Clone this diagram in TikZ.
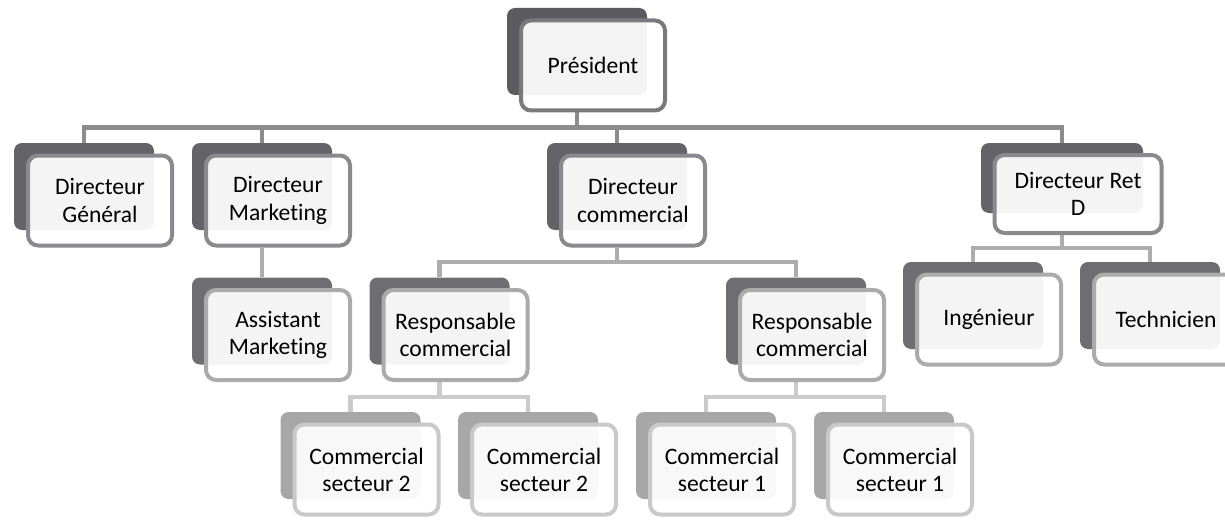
\documentclass[tikz,border=0pt]{standalone}
\usepackage{fontspec}
\setmainfont{Carlito}[Ligatures={NoCommon}]
\usetikzlibrary{positioning,calc,backgrounds}
\definecolor{bk0}{HTML}{5C5C60}
\definecolor{bk1}{HTML}{646468}
\definecolor{bk2}{HTML}{6E6E72}
\definecolor{bk3}{HTML}{A7A7A7}
\definecolor{fr0}{HTML}{7A7A7E}
\definecolor{fr1}{HTML}{8A8A8E}
\definecolor{fr2}{HTML}{ABABAB}
\definecolor{fr3}{HTML}{C9C9C9}
\definecolor{ln1}{HTML}{8C8C8C}
\definecolor{ln2}{HTML}{ADADAD}
\definecolor{ln3}{HTML}{CBCBCB}
\begin{document}
\begin{tikzpicture}[x=0.5pt,y=-0.5pt,
  back/.style={rounded corners=4pt,minimum width=70pt,minimum height=43.5pt,inner sep=0pt},
  front/.style={draw,line width=2pt,rounded corners=5pt,fill=white,fill opacity=0.93,text opacity=1,
    minimum width=72pt,minimum height=45pt,inner sep=0pt,align=center,
    font=\fontsize{11.8}{13.6}\selectfont,xshift=8pt,yshift=-7pt},
  link/.style={line width=2.1pt,to path={(\tikztostart) |- ($(\tikztostart)!.5!(\tikztotarget)$) -| (\tikztotarget)}}]
\clip (0,0) rectangle (1225,519);
% president
\node[back,fill=bk0] (presb) at (577,51.5) {};
\node[front,draw=fr0] (pres) at (presb) {Président};
% directeurs
\node[back,fill=bk1] (dgb) at (84,186.5) {};
\node[front,draw=fr1] (dg) at (dgb) {Directeur\\Général};
\node[back,fill=bk1] (dmb) at (262,186.5) {};
\node[front,draw=fr1] (dm) at (dmb) {Directeur\\Marketing};
\node[back,fill=bk1] (dcb) at (617,186.5) {};
\node[front,draw=fr1] (dc) at (dcb) {Directeur\\commercial};
\node[back,fill=bk1,minimum width=81pt,minimum height=35pt] (drdb) at (1062,178) {};
\node[front,draw=fr1,minimum width=83.5pt,minimum height=39pt,yshift=-1pt] (drd) at (drdb) {Directeur Ret\\D};
% niveau 2
\node[back,fill=bk2] (amb) at (262,321) {};
\node[front,draw=fr2] (am) at (amb) {Assistant\\Marketing};
\node[back,fill=bk2] (rcab) at (439.5,321) {};
\node[front,draw=fr2] (rca) at (rcab) {Responsable\\commercial};
\node[back,fill=bk2] (rcbb) at (796,321) {};
\node[front,draw=fr2] (rcb) at (rcbb) {Responsable\\commercial};
\node[back,fill=bk2] (ingb) at (973,305.5) {};
\node[front,draw=fr2] (ing) at (ingb) {Ingénieur};
\node[back,fill=bk2] (techb) at (1150,305.5) {};
\node[front,draw=fr2] (tech) at (techb) {Technicien};
% commerciaux
\node[back,fill=bk3] (csab) at (350.5,455.5) {};
\node[front,draw=fr3] (csa) at (csab) {Commercial\\secteur 2};
\node[back,fill=bk3] (csbb) at (528,455.5) {};
\node[front,draw=fr3] (csb) at (csbb) {Commercial\\secteur 2};
\node[back,fill=bk3] (cscb) at (706,455.5) {};
\node[front,draw=fr3] (csc) at (cscb) {Commercial\\secteur 1};
\node[back,fill=bk3] (csdb) at (884,455.5) {};
\node[front,draw=fr3] (csd) at (csdb) {Commercial\\secteur 1};
% liens
\begin{scope}[on background layer]
\path (presb |- pres.south) edge[link,ln1] (dgb.north) edge[link,ln1] (dmb.north)
  edge[link,ln1] (dcb.north) edge[link,ln1] (drdb.north);
\path (dmb |- dm.south) edge[link,ln2] (amb.north);
\path (dcb |- dc.south) edge[link,ln2] (rcab.north) edge[link,ln2] (rcbb.north);
\path (drdb |- drd.south) edge[link,ln2] (ingb.north) edge[link,ln2] (techb.north);
\path (rcab |- rca.south) edge[link,ln3] (csab.north) edge[link,ln3] (csbb.north);
\path (rcbb |- rcb.south) edge[link,ln3] (cscb.north) edge[link,ln3] (csdb.north);
\end{scope}
\end{tikzpicture}
\end{document}
